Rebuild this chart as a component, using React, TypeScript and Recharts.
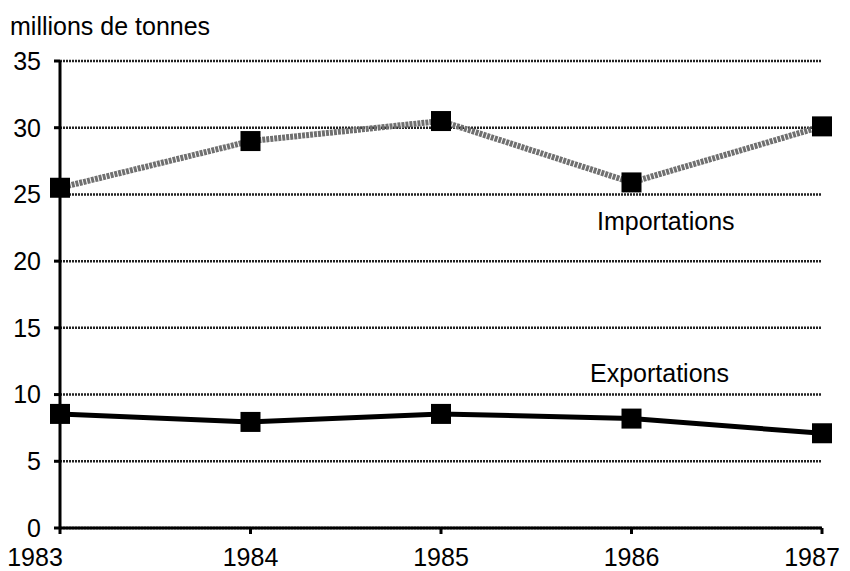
import React from 'react';
import { LineChart, Line, XAxis, YAxis, CartesianGrid } from 'recharts';

const years = [1983, 1984, 1985, 1986, 1987];
const importations = [25.5, 29.0, 30.5, 25.9, 30.1];
const exportations = [8.55, 7.95, 8.55, 8.2, 7.1];
const yTicks = [0, 5, 10, 15, 20, 25, 30, 35];

const data = years.map((year, i) => ({
  year,
  importations: importations[i],
  exportations: exportations[i],
}));

const font = '"Liberation Sans", Arial, Helvetica, sans-serif';

const SquareDot = (props: any) => {
  const { cx, cy } = props;
  if (cx == null || cy == null) return null;
  return <rect x={cx - 10} y={cy - 10} width={20} height={20} fill="#000" />;
};

// first and last year labels are pushed inward like in the original
const YearTick = (props: any) => {
  const { x, y, payload } = props;
  let dx = 0;
  if (payload.value === years[0]) dx = -25;
  if (payload.value === years[years.length - 1]) dx = -10;
  return (
    <text x={x + dx} y={y} dy={28} textAnchor="middle" fill="#000" fontSize={25} fontFamily={font}>
      {payload.value}
    </text>
  );
};

const App: React.FC = () => {
  return (
    <div style={{ position: 'absolute', left: 0, top: 0, width: 850, height: 571, background: '#fff', fontFamily: font }}>
      <LineChart width={850} height={571} data={data} margin={{ top: 61, right: 28, bottom: 3, left: 0 }}>
        <CartesianGrid vertical={false} stroke="#222" strokeWidth={2.5} strokeDasharray="2 1" />
        <XAxis
          dataKey="year"
          type="number"
          domain={[1983, 1987]}
          ticks={years}
          height={40}
          stroke="#000"
          strokeWidth={3}
          tickSize={6}
          tick={<YearTick />}
          tickMargin={4}
        />
        <YAxis
          domain={[0, 35]}
          ticks={yTicks}
          width={60}
          stroke="#000"
          strokeWidth={3}
          tickSize={6}
          tick={{ fill: '#000', fontSize: 25, fontFamily: font }}
          tickMargin={13}
        />
        <Line
          dataKey="importations"
          stroke="#707070"
          strokeWidth={6}
          strokeDasharray="3 1"
          dot={<SquareDot />}
          isAnimationActive={false}
        />
        <Line
          dataKey="exportations"
          stroke="#000"
          strokeWidth={5}
          dot={<SquareDot />}
          isAnimationActive={false}
        />
      </LineChart>
      <div style={{ position: 'absolute', left: 10, top: 12, fontSize: 25 }}>millions de tonnes</div>
      <div style={{ position: 'absolute', left: 597, top: 207, fontSize: 25 }}>Importations</div>
      <div style={{ position: 'absolute', left: 590, top: 359, fontSize: 25 }}>Exportations</div>
    </div>
  );
};

export default App;
